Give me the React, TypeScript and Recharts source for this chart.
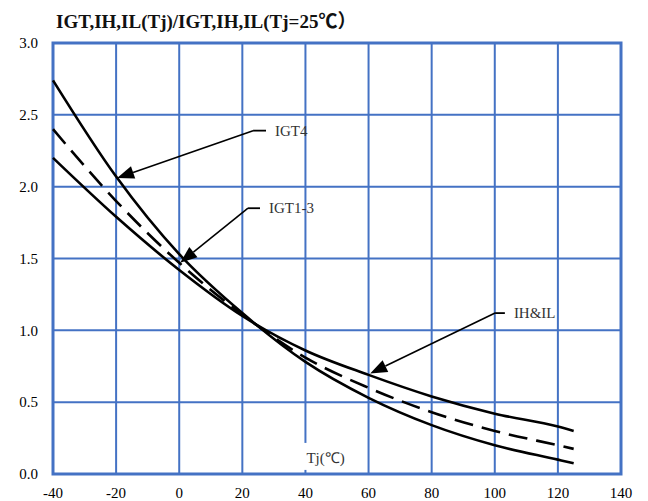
import React from 'react';
import {
  LineChart,
  Line,
  XAxis,
  YAxis,
  CartesianGrid,
  ReferenceLine,
  ReferenceArea,
  ReferenceDot,
} from 'recharts';

const temps = [-40, -20, 0, 20, 40, 60, 80, 100, 120, 125];
const igt4 = [2.74, 2.07, 1.53, 1.12, 0.78, 0.53, 0.34, 0.2, 0.1, 0.075];
const igt13 = [2.4, 1.9, 1.47, 1.11, 0.81, 0.6, 0.43, 0.3, 0.2, 0.175];
const ihil = [2.2, 1.79, 1.42, 1.1, 0.86, 0.69, 0.54, 0.42, 0.33, 0.3];

const xTicks = [-40, -20, 0, 20, 40, 60, 80, 100, 120, 140];
const yTicks = [0, 0.5, 1, 1.5, 2, 2.5, 3];

const annLabels = ['IGT4', 'IGT1-3', 'IH&IL'];
const annTipX = [-19.7, 0.3, 60.5];
const annTipY = [2.06, 1.47, 0.7];
const annElbowX = [23.4, 21.8, 100.1];
const annElbowY = [2.39, 1.85, 1.12];
const annEndX = [27.5, 25.6, 103.2];

const data = temps.map((t, i) => ({ t, igt4: igt4[i], igt13: igt13[i], ihil: ihil[i] }));

const BLUE = '#4472C4';
const SERIF = '"Liberation Serif", "Times New Roman", serif';
const TITLE_FONT = '"Liberation Serif", "Times New Roman", "Noto Sans CJK SC", serif';

const ArrowShape = (props: any) => {
  const { x1, y1, x2, y2 } = props;
  if ([x1, y1, x2, y2].some((v) => typeof v !== 'number' || isNaN(v))) return null;
  const dx = x2 - x1;
  const dy = y2 - y1;
  const len = Math.sqrt(dx * dx + dy * dy) || 1;
  const ux = dx / len;
  const uy = dy / len;
  const L = 17;
  const W = 6.5;
  const bx = x1 + ux * L;
  const by = y1 + uy * L;
  const px = -uy;
  const py = ux;
  const pts = `${x1},${y1} ${bx + px * W},${by + py * W} ${bx - px * W},${by - py * W}`;
  return (
    <g>
      <line x1={bx} y1={by} x2={x2} y2={y2} stroke="#000" strokeWidth={1.6} />
      <polygon points={pts} fill="#000" />
    </g>
  );
};

const makeLeaderShape = (label: string) => (props: any) => {
  const { x1, y1, x2, y2 } = props;
  if ([x1, y1, x2, y2].some((v) => typeof v !== 'number' || isNaN(v))) return null;
  return (
    <g>
      <line x1={x1} y1={y1} x2={x2} y2={y2} stroke="#000" strokeWidth={1.8} />
      <text
        x={x2 + 9}
        y={y2}
        dominantBaseline="central"
        fontFamily={SERIF}
        fontSize={15}
        fill="#333"
      >
        {label}
      </text>
    </g>
  );
};

const TjLabel = (props: any) => {
  const { cx, cy } = props;
  if (typeof cx !== 'number' || typeof cy !== 'number') return null;
  return (
    <g>
      <rect x={cx - 3} y={cy - 15} width={48} height={27} fill="#fff" />
      <text x={cx + 1} y={cy} dominantBaseline="central" fontFamily={SERIF} fontSize={15} fill="#333">
        Tj(℃)
      </text>
    </g>
  );
};

export default function App() {
  return (
    <div style={{ position: 'absolute', left: 0, top: 0, width: 648, height: 501, background: '#fff' }}>
      <div
        style={{
          position: 'absolute',
          left: 56,
          top: 12,
          fontFamily: TITLE_FONT,
          fontWeight: 'bold',
          fontSize: 19,
          lineHeight: '20px',
          color: '#111',
          whiteSpace: 'nowrap',
        }}
      >
        IGT,IH,IL(Tj)/IGT,IH,IL(Tj=25℃）
      </div>
      <LineChart
        width={648}
        height={501}
        data={data}
        margin={{ top: 43, right: 27, bottom: 0, left: 0 }}
      >
        <CartesianGrid stroke={BLUE} strokeWidth={2} />
        <XAxis
          dataKey="t"
          type="number"
          domain={[-40, 140]}
          ticks={xTicks}
          axisLine={false}
          tickLine={false}
          tickSize={0}
          tickMargin={13}
          height={27}
          interval={0}
          tick={{ fontFamily: SERIF, fontSize: 15, fill: '#000' }}
        />
        <YAxis
          type="number"
          domain={[0, 3]}
          ticks={yTicks}
          axisLine={false}
          tickLine={false}
          tickSize={0}
          tickMargin={15}
          width={53}
          interval={0}
          tickFormatter={(v: number) => v.toFixed(1)}
          tick={{ fontFamily: SERIF, fontSize: 15, fill: '#000' }}
        />
        <ReferenceArea
          x1={-40}
          x2={140}
          y1={0}
          y2={3}
          fill="none"
          fillOpacity={0}
          stroke={BLUE}
          strokeWidth={3}
          ifOverflow="visible"
        />
        <ReferenceDot x={40} y={0.112} r={0} shape={TjLabel} ifOverflow="visible" />
        <Line
          type="monotone"
          dataKey="igt4"
          stroke="#000"
          strokeWidth={2.6}
          dot={false}
          isAnimationActive={false}
        />
        <Line
          type="monotone"
          dataKey="igt13"
          stroke="#000"
          strokeWidth={2.6}
          strokeDasharray="19 9"
          dot={false}
          isAnimationActive={false}
        />
        <Line
          type="monotone"
          dataKey="ihil"
          stroke="#000"
          strokeWidth={2.6}
          dot={false}
          isAnimationActive={false}
        />
        {annLabels.map((lab, i) => (
          <ReferenceLine
            key={'a' + i}
            segment={[
              { x: annTipX[i], y: annTipY[i] },
              { x: annElbowX[i], y: annElbowY[i] },
            ]}
            shape={ArrowShape}
            ifOverflow="visible"
          />
        ))}
        {annLabels.map((lab, i) => (
          <ReferenceLine
            key={'b' + i}
            segment={[
              { x: annElbowX[i], y: annElbowY[i] },
              { x: annEndX[i], y: annElbowY[i] },
            ]}
            shape={makeLeaderShape(lab)}
            ifOverflow="visible"
          />
        ))}
      </LineChart>
    </div>
  );
}
